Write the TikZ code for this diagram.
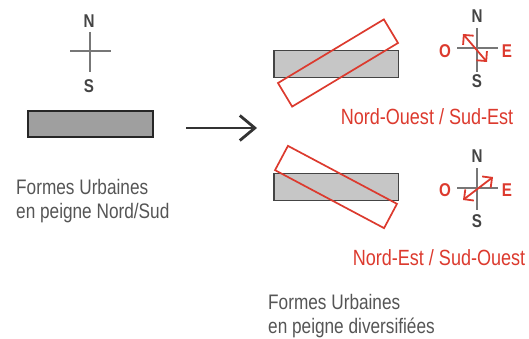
\documentclass[tikz,border=0pt]{standalone}
\usepackage{fontspec}
\setmainfont{Liberation Sans}[FakeStretch=0.82]
\usetikzlibrary{arrows.meta}
\definecolor{gristexte}{HTML}{555555}
\definecolor{grisfonce}{HTML}{444444}
\definecolor{grisligne}{HTML}{777777}
\definecolor{rouge}{HTML}{DC3A2E}

\begin{document}
\begin{tikzpicture}[x=1pt,y=-1pt,
  lettre/.style={font=\fontsize{18.5}{18}\selectfont\bfseries,text=grisfonce,inner sep=0},
  lettrerouge/.style={lettre,text=rouge},
  texte/.style={font=\fontsize{21}{24}\selectfont,text=gristexte,align=left,inner sep=0},
  texterouge/.style={font=\fontsize{22}{24}\selectfont,text=rouge,inner sep=0},
  barre/.style={draw=grisfonce,line width=1.5,fill=gray!45,minimum width=124.5,minimum height=27,inner sep=0},
  tournee/.style={draw=rouge,line width=1.7,minimum width=123.5,minimum height=27.5,inner sep=0},
  boussole/.style={draw=grisligne,line width=1.5},
  orient/.style={draw=rouge,line width=1.8,{Straight Barb[length=7,width=14]}-{Straight Barb[length=7,width=14]}}]
\useasboundingbox (0,0) rectangle (529,339);

\draw[boussole] (90,32) -- (90,72);
\draw[boussole] (70,51) -- (111,51);
\node[lettre] (n0) at (89,21) {N};
\node[lettre] (s0) at (89,86) {S};
\node[barre,draw=black!85,line width=2,fill=gray!75,minimum width=125,minimum height=26] (nordsud) at (90.5,124) {};
\node[texte,anchor=north west] (txt0) at (16,179) {Formes Urbaines\\en peigne Nord/Sud};

\coordinate (fl1) at (186,128);
\coordinate (fl2) at (257,128);
\draw[line width=2.8,draw=black!80,-{Straight Barb[length=15,width=25]}] (fl1) -- (fl2);

\node[barre] (gris1) at (336,64) {};
\node[tournee,rotate=31] (no) at (338,63) {};
\draw[boussole] (477,28) -- (477,72);
\draw[boussole] (457,48) -- (498,48);
\coordinate (a1) at (463,34);
\coordinate (b1) at (487,62);
\draw[orient] (a1) -- (b1);
\node[lettre] (n1) at (477,16) {N};
\node[lettre] (s1) at (477,81) {S};
\node[lettrerouge] (o1) at (445,51) {O};
\node[lettrerouge] (e1) at (507,51) {E};
\node[texterouge,anchor=base] (txt1) at (427,125) {Nord-Ouest / Sud-Est};

\node[barre] (gris2) at (336,187) {};
\node[tournee,rotate=-28] (ne) at (336,187) {};
\draw[boussole] (477,168) -- (477,210);
\draw[boussole] (457,188) -- (498,188);
\coordinate (a2) at (463,200);
\coordinate (b2) at (493,177);
\draw[orient] (a2) -- (b2);
\node[lettre] (n2) at (477,156) {N};
\node[lettre] (s2) at (477,221) {S};
\node[lettrerouge] (o2) at (445,190) {O};
\node[lettrerouge] (e2) at (507,190) {E};
\node[texterouge,anchor=base] (txt2) at (439,265) {Nord-Est / Sud-Ouest};

\node[texte,anchor=north west] (txt3) at (268,294) {Formes Urbaines\\en peigne diversifiées};
\end{tikzpicture}
\end{document}
